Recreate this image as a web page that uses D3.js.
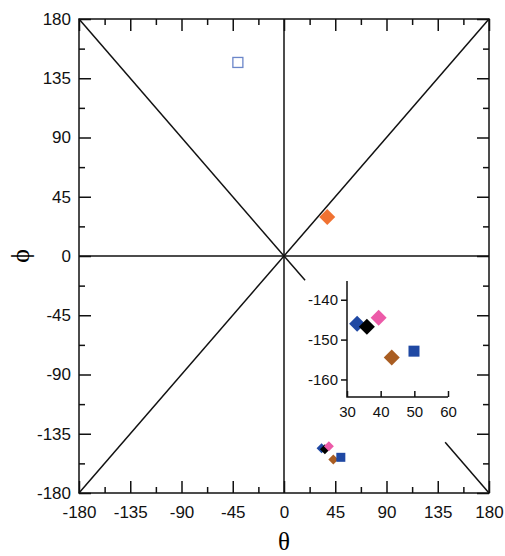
<!DOCTYPE html>
<html>
<head>
<meta charset="utf-8">
<script src="https://cdn.jsdelivr.net/npm/d3@7"></script>
<style>
  body { margin: 0; background: #fff; }
  svg text { font-family: "Liberation Sans", Arial, sans-serif; }
</style>
</head>
<body>
<div id="chart"></div>
<script>
// Ramachandran-style plot, theta vs phi

const majorTicks = [-180, -135, -90, -45, 0, 45, 90, 135, 180];
const minorTicks = [-157.5, -112.5, -67.5, -22.5, 22.5, 67.5, 112.5, 157.5];
const insetXTicks = [30, 40, 50, 60];
const insetYTicks = [-140, -150, -160];

// clustered points (theta, phi)
const clusterNames = ["blue", "black", "pink", "brown", "blueSquare"];
const clusterTheta = [33.0, 35.9, 39.4, 43.3, 49.9];
const clusterPhi = [-146.0, -146.8, -144.5, -154.5, -152.9];
const clusterShape = ["diamond", "diamond", "diamond", "diamond", "square"];
const clusterColor = ["#1f48a3", "#000000", "#ec5aa8", "#a95d22", "#1f48a3"];

// lone points
const loneTheta = [-40.5, 38.0];
const lonePhi = [147.0, 29.6];
const loneShape = ["openSquare", "diamond"];
const loneColor = ["#6b86c9", "#f07232"];

// reference lines (diagonal broken where the inset sits)
const refLines = [
  [[-180, 0], [180, 0]],
  [[0, -180], [0, 180]],
  [[-180, -180], [180, 180]],
  [[-180, 180], [18.5, -18.5]],
  [[141.5, -141.5], [180, -180]]
];

const width = 505, height = 556;
const svg = d3.select("#chart").append("svg")
  .attr("width", width).attr("height", height);

const x = d3.scaleLinear().domain([-180, 180]).range([79, 489]);
const y = d3.scaleLinear().domain([-180, 180]).range([493, 19]);

const line = d3.line().x(d => x(d[0])).y(d => y(d[1]));
const plain = d => String(d);   // keep ascii hyphen as minus

svg.selectAll(".ref")
  .data(refLines)
  .enter().append("path")
  .attr("d", line)
  .attr("fill", "none")
  .attr("stroke", "#111")
  .attr("stroke-width", 1.5);

function styleAxis(g) {
  g.select(".domain").remove();
  g.selectAll("line").attr("stroke", "#111").attr("stroke-width", 1.5);
  g.selectAll("text").style("font-size", "17px").attr("fill", "#111");
}

// major + minor ticks on all four sides, pointing inward
const sides = [
  { axis: d3.axisBottom(x), t: `translate(0,${y(-180)})`, labels: true, pad: 13 },
  { axis: d3.axisLeft(y), t: `translate(${x(-180)},0)`, labels: true, pad: 8 },
  { axis: d3.axisTop(x), t: `translate(0,${y(180)})`, labels: false, pad: 0 },
  { axis: d3.axisRight(y), t: `translate(${x(180)},0)`, labels: false, pad: 0 }
];
sides.forEach(s => {
  const major = s.axis.tickValues(majorTicks).tickSize(-12).tickSizeOuter(0)
    .tickPadding(s.pad).tickFormat(s.labels ? plain : "");
  svg.append("g").attr("transform", s.t).call(major).call(styleAxis);
  const minor = s.axis.tickValues(minorTicks).tickSize(-6).tickFormat("");
  svg.append("g").attr("transform", s.t).call(minor).call(styleAxis);
});

// frame
svg.append("rect")
  .attr("x", x(-180)).attr("y", y(180))
  .attr("width", x(180) - x(-180)).attr("height", y(-180) - y(180))
  .attr("fill", "none").attr("stroke", "#111").attr("stroke-width", 1.5);

function drawMark(g, shape, cx, cy, size, color) {
  if (shape === "diamond") {
    const h = size / 2;
    g.append("path")
      .attr("d", `M${cx},${cy - h}L${cx + h},${cy}L${cx},${cy + h}L${cx - h},${cy}Z`)
      .attr("fill", color);
  } else if (shape === "square") {
    g.append("rect")
      .attr("x", cx - size / 2).attr("y", cy - size / 2)
      .attr("width", size).attr("height", size)
      .attr("fill", color);
  } else {
    g.append("rect")
      .attr("x", cx - size / 2).attr("y", cy - size / 2)
      .attr("width", size).attr("height", size)
      .attr("fill", "none").attr("stroke", color).attr("stroke-width", 1.3);
  }
}

const marks = svg.append("g");
loneTheta.forEach((t, i) => {
  drawMark(marks, loneShape[i], x(t), y(lonePhi[i]), loneShape[i] === "diamond" ? 16 : 10, loneColor[i]);
});
clusterTheta.forEach((t, i) => {
  drawMark(marks, clusterShape[i], x(t), y(clusterPhi[i]),
    clusterShape[i] === "diamond" ? 10 : 9, clusterColor[i]);
});

// inset zoom on the cluster
const xi = d3.scaleLinear().domain([30, 60]).range([347, 448]);
const yi = d3.scaleLinear().domain([-164.4, -135.3]).range([397, 281]);
const inset = svg.append("g");

inset.append("path")
  .attr("d", `M${xi(30)},${yi(-135.3)}V${yi(-164.4)}H${xi(60)}`)
  .attr("fill", "none").attr("stroke", "#111").attr("stroke-width", 1.5);

const ixAxis = inset.append("g").attr("transform", `translate(0,${yi(-164.4)})`)
  .call(d3.axisBottom(xi).tickValues(insetXTicks).tickSize(-6).tickSizeOuter(0).tickPadding(9).tickFormat(plain));
const iyAxis = inset.append("g").attr("transform", `translate(${xi(30)},0)`)
  .call(d3.axisLeft(yi).tickValues(insetYTicks).tickSize(6).tickSizeOuter(0).tickPadding(3).tickFormat(plain));
[ixAxis, iyAxis].forEach(g => {
  g.select(".domain").remove();
  g.selectAll("line").attr("stroke", "#111").attr("stroke-width", 1.5);
  g.selectAll("text").style("font-size", "15px").attr("fill", "#111");
});

clusterTheta.forEach((t, i) => {
  drawMark(inset, clusterShape[i], xi(t), yi(clusterPhi[i]),
    clusterShape[i] === "diamond" ? 16 : 11, clusterColor[i]);
});

// axis titles
svg.append("text")
  .attr("x", x(0)).attr("y", 550)
  .attr("text-anchor", "middle")
  .style("font-family", "'Liberation Serif', 'Times New Roman', serif")
  .style("font-size", "25px")
  .text("θ");

svg.append("text")
  .attr("transform", `translate(29,${y(0)}) rotate(-90)`)
  .attr("text-anchor", "middle")
  .style("font-family", "'Liberation Serif', 'Times New Roman', serif")
  .style("font-size", "26px")
  .text("ϕ");
</script>
</body>
</html>
